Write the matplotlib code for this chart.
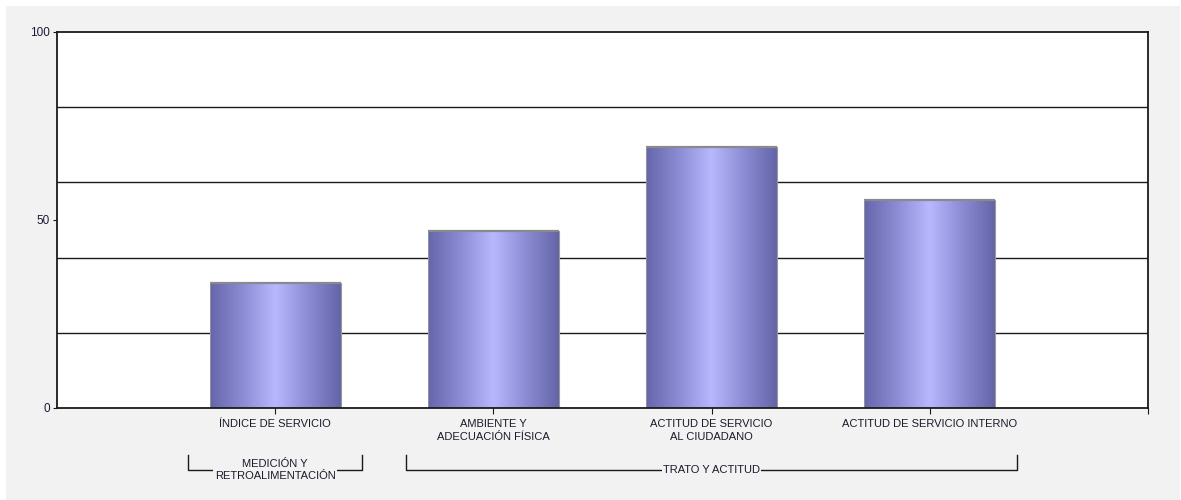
import numpy as np
import matplotlib
matplotlib.use("Agg")
import matplotlib.pyplot as plt
from matplotlib.patches import Rectangle
from matplotlib.colors import LinearSegmentedColormap

# Data
categories = ["ÍNDICE DE SERVICIO", "AMBIENTE Y\nADECUACIÓN FÍSICA",
              "ACTITUD DE SERVICIO\nAL CIUDADANO", "ACTITUD DE SERVICIO INTERNO"]
values = [33.3, 47.2, 69.4, 55.3]
groups = ["MEDICIÓN Y\nRETROALIMENTACIÓN", "TRATO Y ACTITUD"]
group_members = [[0], [1, 2, 3]]
ytick_labels = [0, 50, 100]
grid_levels = [20, 40, 60, 80]

plt.rcParams['font.family'] = ['Liberation Sans Narrow', 'Liberation Sans', 'DejaVu Sans']

fig = plt.figure(figsize=(11.81, 5.0), dpi=100, facecolor="white")
fig.patches.append(Rectangle((6 / 1181, 0), 1174 / 1181, 494 / 500,
                             transform=fig.transFigure, facecolor="#f2f2f2",
                             edgecolor="none", zorder=-10))

ax = fig.add_axes([57 / 1181, 92 / 500, 1091 / 1181, 376 / 500])
ax.set_facecolor("white")

x = np.arange(1, len(values) + 1)

for g in grid_levels:
    ax.axhline(g, color="#1a1a1a", lw=1.0, zorder=1)

cmap = LinearSegmentedColormap.from_list(
    "barshade", ["#6666ac", "#8c8cd4", "#b8b8ff", "#8c8cd4", "#6464a8"])
grad = np.linspace(0, 1, 256).reshape(1, -1)

bars = ax.bar(x, values, width=0.6, color="none", edgecolor="none", zorder=3)
for b in bars:
    x0, w, h = b.get_x(), b.get_width(), b.get_height()
    im = ax.imshow(grad, cmap=cmap, aspect="auto", extent=(x0, x0 + w, 0, h),
                   zorder=3, interpolation="bicubic")
    im.set_clip_path(b)
    ax.plot([x0, x0 + w], [h, h], color="#8a8a8a", lw=1.6, zorder=4,
            solid_capstyle="butt")
    ax.plot([x0 + w, x0 + w], [0, h], color="#9a9a9a", lw=0.8, zorder=4)
    ax.plot([x0, x0], [0, h], color="#9a9a9a", lw=0.6, zorder=4)
ax.set_xlim(0, len(values) + 1)
ax.set_ylim(0, 100)

for s in ax.spines.values():
    s.set_color("#1a1a1a")
    s.set_linewidth(1.3)
    s.set_zorder(5)

ax.set_yticks(ytick_labels)
ax.set_yticklabels([str(v) for v in ytick_labels], fontsize=8.5, color="#1a1a3a")
ax.tick_params(axis="y", length=3, width=0.8, pad=2, color="#1a1a1a")
ax.set_xticks(list(x) + [len(values) + 1])
ax.set_xticklabels([""] * (len(values) + 1))
ax.tick_params(axis="x", length=4, width=0.8, color="#1a1a1a")

trans = ax.get_xaxis_transform()
for xi, lab in zip(x, categories):
    ax.text(xi, -0.03, lab, transform=trans, ha="center", va="top",
            fontsize=8, color="#1a1a2a", linespacing=1.3)

# Group brackets below the category labels
for name, members in zip(groups, group_members):
    left = x[members[0]] - 0.4
    right = x[members[-1]] + 0.4
    ytop, ybot = -0.125, -0.165
    ax.plot([left, left, right, right], [ytop, ybot, ybot, ytop],
            transform=trans, color="#1a1a1a", lw=1.0, clip_on=False)
    xc = (x[members[0]] + x[members[-1]]) / 2
    ax.text(xc, ybot, name, transform=trans, ha="center", va="center",
            fontsize=8, color="#1a1a2a", linespacing=1.3,
            bbox=dict(facecolor="#f2f2f2", edgecolor="none", pad=1))

fig.savefig("out.png", dpi=100, facecolor=fig.get_facecolor())
